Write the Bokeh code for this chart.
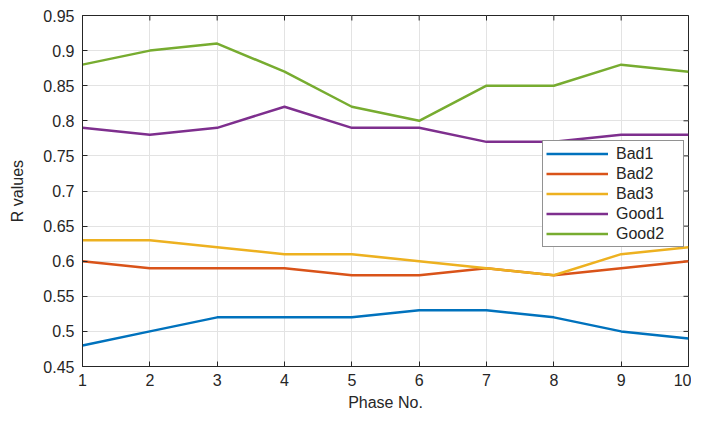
import math
from bokeh.plotting import figure
from bokeh.models import FixedTicker, Legend, LegendItem, Range1d
from bokeh.embed import file_html
from bokeh.resources import INLINE

phases = [1, 2, 3, 4, 5, 6, 7, 8, 9, 10]
bad1 = [0.48, 0.50, 0.52, 0.52, 0.52, 0.53, 0.53, 0.52, 0.50, 0.49]
bad2 = [0.60, 0.59, 0.59, 0.59, 0.58, 0.58, 0.59, 0.58, 0.59, 0.60]
bad3 = [0.63, 0.63, 0.62, 0.61, 0.61, 0.60, 0.59, 0.58, 0.61, 0.62]
good1 = [0.79, 0.78, 0.79, 0.82, 0.79, 0.79, 0.77, 0.77, 0.78, 0.78]
good2 = [0.88, 0.90, 0.91, 0.87, 0.82, 0.80, 0.85, 0.85, 0.88, 0.87]
series_names = ["Bad1", "Bad2", "Bad3", "Good1", "Good2"]
series_colors = ["#0072BD", "#D95319", "#EDB120", "#7E2F8E", "#77AC30"]
y_ticks = [0.45, 0.5, 0.55, 0.6, 0.65, 0.7, 0.75, 0.8, 0.85, 0.9, 0.95]
y_tick_labels = ["0.45", "0.5", "0.55", "0.6", "0.65", "0.7", "0.75", "0.8", "0.85", "0.9", "0.95"]

FONT = "Liberation Sans"
TXT = "#262626"

p = figure(width=691, height=413, output_backend="svg", toolbar_location=None,
           x_range=Range1d(phases[0], phases[-1]), y_range=Range1d(y_ticks[0], y_ticks[-1]),
           min_border_left=82, min_border_right=3, min_border_top=15, min_border_bottom=38)

p.outline_line_color = TXT
p.outline_line_width = 1
p.background_fill_color = "white"

for ax in (p.xaxis[0], p.yaxis[0]):
    ax.major_tick_in = 5
    ax.major_tick_out = 0
    ax.minor_tick_line_color = None
    ax.axis_line_color = TXT
    ax.major_tick_line_color = TXT
    ax.major_label_text_font = FONT
    ax.major_label_text_font_size = "16px"
    ax.major_label_text_color = TXT
    ax.axis_label_text_font = FONT
    ax.axis_label_text_font_size = "16px"
    ax.axis_label_text_font_style = "normal"
    ax.axis_label_text_color = TXT

p.xaxis.ticker = FixedTicker(ticks=phases)
p.yaxis.ticker = FixedTicker(ticks=y_ticks)
p.yaxis.major_label_overrides = {t: l for t, l in zip(y_ticks, y_tick_labels)}
p.xaxis.axis_label = "Phase No."
p.yaxis.axis_label = "R values"
p.xaxis.major_label_standoff = 7
p.xaxis.axis_label_standoff = 5
p.yaxis.major_label_standoff = 8
p.yaxis.axis_label_standoff = 14

p.xgrid.grid_line_color = "#e3e3e3"
p.ygrid.grid_line_color = "#e3e3e3"
p.xgrid.grid_line_width = 1
p.ygrid.grid_line_width = 1

# inward ticks on the top and right edges of the box (clipped to the frame)
p.scatter(phases, [y_ticks[-1]] * len(phases), marker="dash", size=10, angle=math.pi / 2,
          line_color=TXT, line_width=1)
p.scatter([phases[-1]] * len(y_ticks), y_ticks, marker="dash", size=10,
          line_color=TXT, line_width=1)

items = []
for name, color, ys in zip(series_names, series_colors, [bad1, bad2, bad3, good1, good2]):
    r = p.line(phases, ys, line_color=color, line_width=2.5)
    items.append(LegendItem(label=name, renderers=[r]))

legend = Legend(items=items, location=(460, 119))
legend.label_text_font = FONT
legend.label_text_font_size = "16px"
legend.label_text_color = TXT
legend.border_line_color = "#262626"
legend.border_line_width = 1
legend.background_fill_color = "white"
legend.background_fill_alpha = 1
legend.glyph_width = 62
legend.glyph_height = 19
legend.label_height = 19
legend.label_width = 64
legend.label_standoff = 8
legend.spacing = 1
legend.padding = 3
legend.margin = 0
p.add_layout(legend, "center")

open("out.html", "w").write(file_html(p, INLINE))
